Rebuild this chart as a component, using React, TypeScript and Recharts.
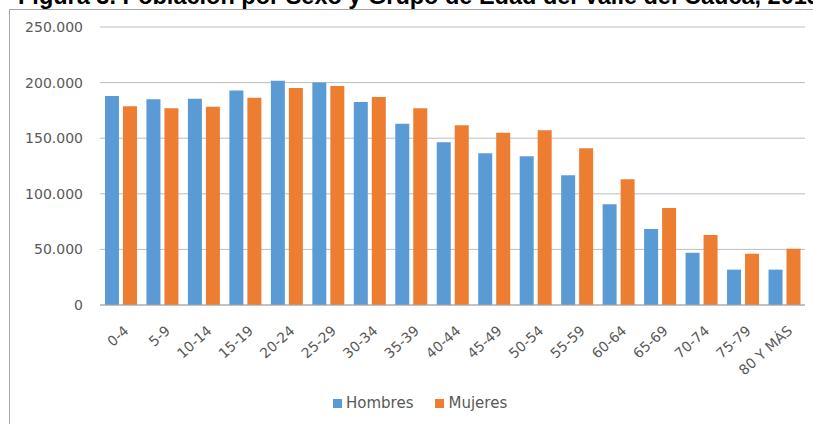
import React from 'react';
import { BarChart, Bar, XAxis, YAxis, CartesianGrid } from 'recharts';

const categories = ['0-4', '5-9', '10-14', '15-19', '20-24', '25-29', '30-34', '35-39', '40-44', '45-49', '50-54', '55-59', '60-64', '65-69', '70-74', '75-79', '80 Y MÁS'];
const hombres = [188000, 185000, 185500, 193000, 201700, 200200, 182600, 163000, 146300, 136400, 133700, 116600, 90500, 68300, 47000, 31800, 31800];
const mujeres = [178700, 176900, 178300, 186400, 195100, 196900, 187000, 176900, 161600, 155000, 157100, 140900, 113000, 87200, 62900, 46100, 50600];
const yTicks = [0, 50000, 100000, 150000, 200000, 250000];
const seriesNames = ['Hombres', 'Mujeres'];
const seriesColors = ['#5B9BD5', '#ED7D31'];
const title = 'Figura 3. Población por Sexo y Grupo de Edad del Valle del Cauca, 2015';

const data = categories.map((c, i) => ({ name: c, hombres: hombres[i], mujeres: mujeres[i] }));

const fmt = (v: number) => v.toString().replace(/\B(?=(\d{3})+(?!\d))/g, '.');

const FONT = '"DejaVu Sans", sans-serif';

const XTick = (props: any) => {
  const { x, y, payload } = props;
  const tx = x + 9;
  const ty = y + 27;
  return (
    <text x={tx} y={ty} transform={`rotate(-42 ${tx} ${ty})`} textAnchor="end" fill="#595959" fontSize={14} fontFamily={FONT}>
      {payload.value}
    </text>
  );
};

export default function App() {
  return (
    <div style={{ position: 'absolute', left: 0, top: 0, width: 813, height: 424, overflow: 'hidden', background: '#fff' }}>
      <div style={{ position: 'absolute', left: 9, top: 9, width: 900, height: 500, border: '1px solid #a6a6a6', boxSizing: 'border-box' }} />
      <div style={{ position: 'absolute', left: 18, top: -18, whiteSpace: 'nowrap', fontFamily: '"Liberation Sans", Arial, sans-serif', fontWeight: 'bold', fontSize: 23.5, color: '#000', lineHeight: '28px' }}>
        {title}
      </div>
      <div style={{ position: 'absolute', left: 0, top: 0 }}>
        <BarChart width={813} height={424} data={data} margin={{ top: 27, right: 8, bottom: 59, left: 0 }} barGap={4} barCategoryGap="12%">
          <CartesianGrid vertical={false} stroke="#bdbdbd" />
          <XAxis dataKey="name" height={60} interval={0} tickLine={false} tickSize={0} tickMargin={0} stroke="#a6a6a6" tick={<XTick />} />
          <YAxis width={100} domain={[0, 250000]} ticks={yTicks} tickFormatter={fmt} axisLine={false} tickLine={false} tickSize={0} tickMargin={17} tick={{ fill: '#595959', fontSize: 14, fontFamily: FONT }} />
          <Bar dataKey="hombres" name={seriesNames[0]} fill={seriesColors[0]} isAnimationActive={false} />
          <Bar dataKey="mujeres" name={seriesNames[1]} fill={seriesColors[1]} isAnimationActive={false} />
        </BarChart>
      </div>
      <div style={{ position: 'absolute', left: 333, top: 394, height: 18, display: 'flex', alignItems: 'center', fontFamily: FONT, fontSize: 15, color: '#595959' }}>
        {seriesNames.map((n, i) => (
          <div key={n} style={{ display: 'flex', alignItems: 'center', marginRight: 22 }}>
            <span style={{ display: 'inline-block', width: 9, height: 9, background: seriesColors[i], marginRight: 4 }} />
            <span>{n}</span>
          </div>
        ))}
      </div>
    </div>
  );
}
